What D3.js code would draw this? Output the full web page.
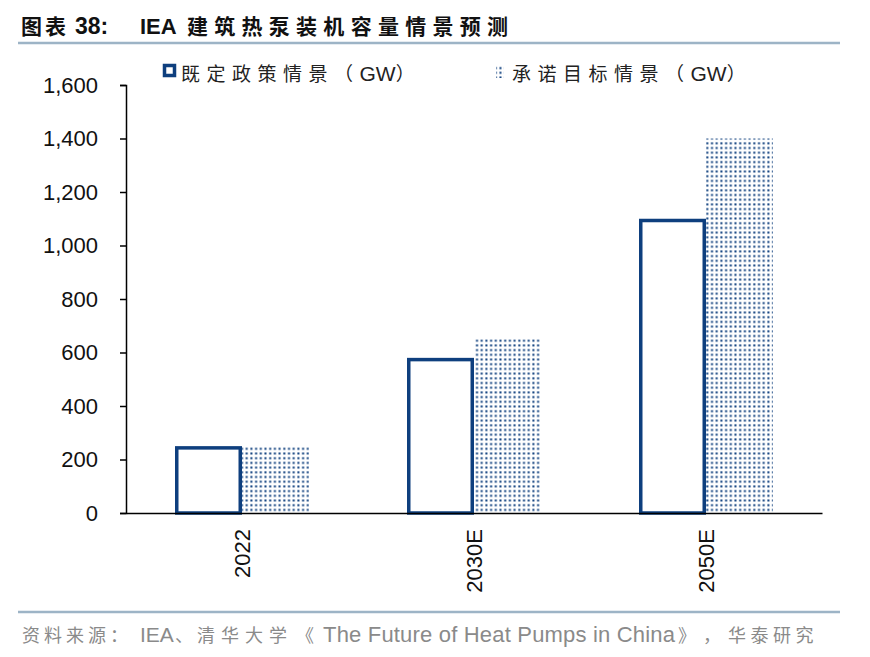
<!DOCTYPE html>
<html>
<head>
    <meta charset="utf-8">
    <script src="https://cdnjs.cloudflare.com/ajax/libs/d3/7.8.5/d3.min.js"></script>
    <style>
        body { margin: 0; background: #fff; }
        text { font-family: "Liberation Sans", Arial, "Noto Sans CJK SC", sans-serif; }
    </style>
</head>
<body>
    <div id="chart"></div>
    <script>
        // Data
        const categories = ["2022", "2030E", "2050E"];
        const seriesNames = ["既定政策情景", "承诺目标情景"];
        const unit = "GW";
        const statedPolicies = [250, 580, 1100];
        const announcedPledges = [250, 650, 1400];
        const yTicks = [0, 200, 400, 600, 800, 1000, 1200, 1400, 1600];

        const W = 870, H = 657;
        const navy = "#0e3f7e";
        const cjk = '"Noto Sans CJK SC", sans-serif';
        const latin = '"Liberation Sans", Arial, sans-serif';

        const svg = d3.select("#chart").append("svg")
            .attr("width", W).attr("height", H);

        // dot pattern for the second series
        const defs = svg.append("defs");
        const pat = defs.append("pattern")
            .attr("id", "dots")
            .attr("patternUnits", "userSpaceOnUse")
            .attr("width", 4.7).attr("height", 4.7);
        pat.append("rect").attr("width", 4.7).attr("height", 4.7).attr("fill", "#fff");
        pat.append("rect").attr("x", 1.3).attr("y", 1.3).attr("width", 2).attr("height", 2).attr("fill", navy);

        // helper: a piece of text at a fixed x
        function piece(x, y, str, font, size, opts = {}) {
            const t = svg.append("text")
                .attr("x", x).attr("y", y)
                .style("font-family", font)
                .style("font-size", size + "px")
                .attr("fill", opts.fill || "#111")
                .text(str);
            if (opts.bold) t.style("font-weight", "bold");
            if (opts.len) t.attr("textLength", opts.len).attr("lengthAdjust", "spacing");
            if (opts.ls) t.attr("letter-spacing", opts.ls + "px");
            return t;
        }

        // Title
        piece(21, 34, "图表", cjk, 21, {bold: true, ls: 3});
        piece(75, 34, "38:", latin, 23, {bold: true});
        piece(140, 34, "IEA", latin, 22, {bold: true});
        piece(187, 34, "建筑热泵装机容量情景预测", cjk, 21, {bold: true, len: 321});
        svg.append("line")
            .attr("x1", 18).attr("x2", 840).attr("y1", 43).attr("y2", 43)
            .attr("stroke", "#9db4c6").attr("stroke-width", 2.5);

        // Scales
        const plot = {left: 126, right: 822, top: 85, bottom: 513};
        const x = d3.scaleBand().domain(categories).range([plot.left, plot.right]);
        const y = d3.scaleLinear().domain([0, 1600]).range([plot.bottom, plot.top]);
        const barW = 67;

        // Bars
        const g = svg.append("g");
        g.selectAll(".b1").data(categories).enter().append("rect")
            .attr("x", d => x(d) + x.bandwidth() / 2 - barW + 1.75)
            .attr("y", (d, i) => y(statedPolicies[i]) + 1.75)
            .attr("width", barW - 3.5)
            .attr("height", (d, i) => y(0) - y(statedPolicies[i]) - 1.75)
            .attr("fill", "#fff")
            .attr("stroke", navy)
            .attr("stroke-width", 3.5);

        g.selectAll(".b2").data(categories).enter().append("rect")
            .attr("x", d => x(d) + x.bandwidth() / 2)
            .attr("y", (d, i) => y(announcedPledges[i]))
            .attr("width", barW)
            .attr("height", (d, i) => y(0) - y(announcedPledges[i]))
            .attr("fill", "url(#dots)");

        // Y axis
        const yAxis = svg.append("g")
            .attr("transform", `translate(${plot.left},0)`)
            .call(d3.axisLeft(y).tickValues(yTicks).tickSize(6).tickPadding(22)
                .tickFormat(d3.format(",")));
        yAxis.select(".domain").attr("stroke", "#000").attr("stroke-width", 1.5);
        yAxis.selectAll(".tick line").attr("stroke", "#000").attr("stroke-width", 1.5);
        yAxis.selectAll(".tick text")
            .style("font-size", "22px").attr("fill", "#111")
            .style("font-family", latin);

        // X axis
        const xAxis = svg.append("g")
            .attr("transform", `translate(0,${plot.bottom})`)
            .call(d3.axisBottom(x).tickSize(0).tickPadding(0));
        xAxis.select(".domain").attr("stroke", "#000").attr("stroke-width", 1.5);
        xAxis.selectAll(".tick text")
            .attr("transform", "rotate(-90)")
            .attr("x", -16).attr("y", 0).attr("dy", "0.35em")
            .attr("text-anchor", "end")
            .style("font-size", "22px").attr("fill", "#111")
            .style("font-family", latin);

        // Legend
        function legendLabel(x0, name) {
            const t = svg.append("text")
                .attr("x", x0).attr("y", 81)
                .style("font-family", cjk).style("font-size", "19px")
                .attr("fill", "#222");
            t.append("tspan").attr("letter-spacing", "6.5px").text(name + "（");
            t.append("tspan").style("font-family", latin).style("font-size", "21px").text(unit);
            t.append("tspan").text("）");
        }
        svg.append("rect")
            .attr("x", 164.5).attr("y", 65.5).attr("width", 10).attr("height", 10)
            .attr("fill", "#fff").attr("stroke", navy).attr("stroke-width", 3.5);
        legendLabel(181, seriesNames[0]);
        svg.append("rect")
            .attr("x", 496).attr("y", 66).attr("width", 8).attr("height", 12)
            .attr("fill", "url(#dots)");
        legendLabel(512, seriesNames[1]);

        // Footer
        svg.append("line")
            .attr("x1", 18).attr("x2", 840).attr("y1", 612).attr("y2", 612)
            .attr("stroke", "#9db4c6").attr("stroke-width", 2.5);
        const grey = {fill: "#8a8a8a"};
        piece(22, 642, "资料来源：", cjk, 18, {...grey, ls: 4});
        piece(140, 642, "IEA", latin, 21, grey);
        piece(175, 642, "、", cjk, 18, grey);
        piece(197, 642, "清华大学", cjk, 18, {...grey, ls: 6});
        piece(296, 642, "《", cjk, 18, grey);
        piece(323, 642, "The Future of Heat Pumps in China", latin, 22, {...grey, len: 352});
        piece(678, 642, "》", cjk, 18, grey);
        piece(703, 642, "，", cjk, 18, grey);
        piece(728, 642, "华泰研究", cjk, 18, {...grey, ls: 4.5});
    </script>
</body>
</html>
